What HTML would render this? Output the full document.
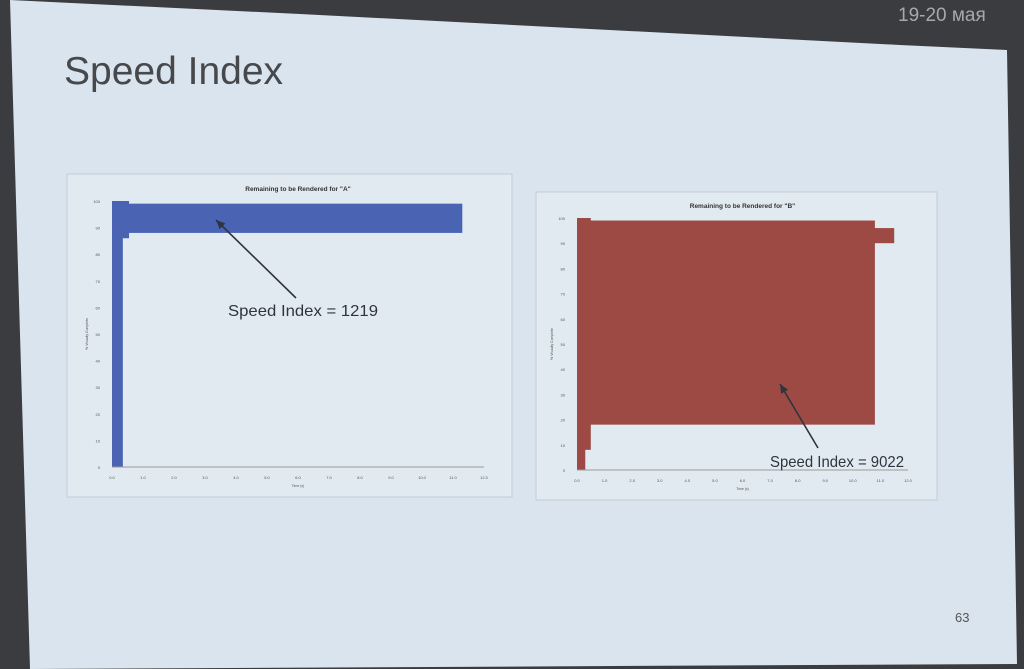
<!DOCTYPE html>
<html><head><meta charset="utf-8"><style>
html,body{margin:0;padding:0;width:1024px;height:669px;overflow:hidden;background:#3b3c3f}
svg{display:block}
text{font-family:"Liberation Sans",sans-serif}
</style></head><body>
<svg id="s" width="1024" height="669" viewBox="0 0 1024 669">
<polygon points="10,0 300,14 900,45 1007,50 1017,664 30,669" fill="#d9e4ee"/>
<text x="898" y="21" font-size="19" fill="#a8a8aa">19-20 мая</text>
<text x="64" y="84" font-size="39" fill="#46484c">Speed Index</text>
<text x="955" y="622" font-size="13" fill="#555">63</text>
<rect x="67" y="174" width="445" height="323" fill="#e2eaf1" stroke="#c4cbd2"/>
<rect x="536" y="192" width="401" height="308" fill="#e2eaf1" stroke="#c4cbd2"/>
<g id="ca"></g><g id="cb"></g>
</svg>
<script>
// Chart A segments (seconds, percent)
const aStart=[0,0,0];
const aEnd=[0.35,0.55,11.3];
const aLow=[0,86,88];
const aHigh=[100,100,99];
// Chart B segments
const bStart=[0,0,0,0];
const bEnd=[0.3,0.5,10.8,11.5];
const bLow=[0,8,18,90];
const bHigh=[100,100,99,96];
const yTicks=[0,10,20,30,40,50,60,70,80,90,100];
const xTicks=[0,1,2,3,4,5,6,7,8,9,10,11,12];
const NS='http://www.w3.org/2000/svg';
function mk(p,tag,at){const e=document.createElementNS(NS,tag);for(const k in at)e.setAttribute(k,at[k]);p.appendChild(e);return e;}
function chart(g,cfg){
  const X=t=>cfg.x0+(cfg.x1-cfg.x0)*t/12, Y=v=>cfg.y0+(cfg.y1-cfg.y0)*v/100;
  const tt=mk(g,'text',{x:(cfg.x0+cfg.x1)/2,y:cfg.y1-10,'font-size':6.5,'font-weight':'bold','text-anchor':'middle',fill:'#333'});
  tt.textContent=cfg.title;
  
  
  for(let i=0;i<cfg.s.length;i++){
    const r=mk(g,'rect',{x:X(cfg.s[i]),y:Y(cfg.h[i]),width:X(cfg.e[i])-X(cfg.s[i]),height:Y(cfg.l[i])-Y(cfg.h[i]),fill:cfg.color});
    
    
  }
  const ax=mk(g,'line',{x1:cfg.x0,y1:cfg.y0,x2:cfg.x1,y2:cfg.y0,stroke:'#999','stroke-width':1});
  
  
  yTicks.forEach(v=>{const t=mk(g,'text',{x:cfg.x0-12,y:Y(v)+2,'font-size':4,'text-anchor':'end',fill:'#555'});t.textContent=v;
    
    });
  xTicks.forEach(v=>{const t=mk(g,'text',{x:X(v),y:cfg.y0+12,'font-size':4,'text-anchor':'middle',fill:'#555'});t.textContent=v.toFixed(1);
    
    });
  const xt=mk(g,'text',{x:(cfg.x0+cfg.x1)/2,y:cfg.y0+20,'font-size':3.5,'text-anchor':'middle',fill:'#555'});xt.textContent='Time (s)';
  
  
  const yt=mk(g,'text',{x:0,y:0,'font-size':3.5,'text-anchor':'middle',fill:'#555',transform:`translate(${cfg.x0-24},${Y(50)}) rotate(-90)`});yt.textContent='% Visually Complete';
  
  
  const ar=mk(g,'line',{x1:cfg.ax1,y1:cfg.ay1,x2:cfg.ax2,y2:cfg.ay2,stroke:'#2e3440','stroke-width':1.6});
  
  
  const dx=cfg.ax2-cfg.ax1,dy=cfg.ay2-cfg.ay1,L=Math.hypot(dx,dy),ux=dx/L,uy=dy/L;
  const hx=cfg.ax2,hy=cfg.ay2;
  const hd=mk(g,'polygon',{points:`${hx},${hy} ${hx-ux*9-uy*4},${hy-uy*9+ux*4} ${hx-ux*9+uy*4},${hy-uy*9-ux*4}`,fill:'#2e3440'});
  
  
  const lb=mk(g,'text',{x:cfg.lx,y:cfg.ly,'font-size':16,fill:'#2e3440',textLength:cfg.lw,lengthAdjust:'spacingAndGlyphs'});lb.textContent=cfg.label;
  
  
}
chart(document.getElementById('ca'),{x0:112,x1:484,y0:467,y1:201,s:aStart,e:aEnd,l:aLow,h:aHigh,color:'#4a63b2',
  title:'Remaining to be Rendered for "A"',ax1:296,ay1:298,ax2:216,ay2:220,lx:228,ly:316,lw:150,label:'Speed Index = 1219'});
chart(document.getElementById('cb'),{x0:577,x1:908,y0:470,y1:218,s:bStart,e:bEnd,l:bLow,h:bHigh,color:'#9c4a43',
  title:'Remaining to be Rendered for "B"',ax1:818,ay1:448,ax2:780,ay2:384,lx:770,ly:467,lw:134,label:'Speed Index = 9022'});
</script>
</body></html>
